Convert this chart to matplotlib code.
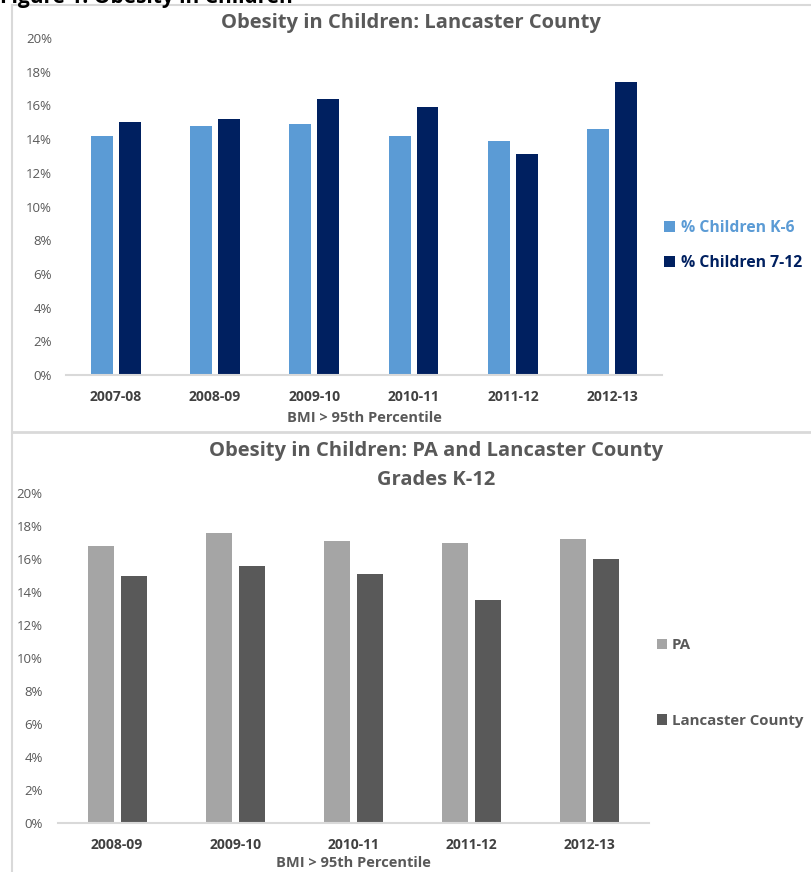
import matplotlib.pyplot as plt
import numpy as np
from matplotlib.lines import Line2D

plt.rcParams['font.family'] = ['Open Sans', 'DejaVu Sans']

# Datos
anios_sup = ["2007-08", "2008-09", "2009-10", "2010-11", "2011-12", "2012-13"]
ninos_k6 = [14.2, 14.8, 14.9, 14.2, 13.9, 14.6]
ninos_7_12 = [15.0, 15.2, 16.4, 15.9, 13.1, 17.4]

anios_inf = ["2008-09", "2009-10", "2010-11", "2011-12", "2012-13"]
pa = [16.8, 17.6, 17.1, 17.0, 17.2]
lancaster = [15.0, 15.6, 15.1, 13.5, 16.0]

gris_txt = '#595959'
borde = '#D9D9D9'

fig = plt.figure(figsize=(8.11, 8.72), dpi=100)

# cabecera cortada y marcos
fig.text(0.0, 1 - 3 / 872, "Figure 1: Obesity in Children", fontsize=15,
         fontweight='bold', color='black', va='baseline', ha='left')
fig.add_artist(Line2D([12 / 811, 12 / 811], [0, 1 - 5 / 872], color=borde, lw=1.5))
fig.add_artist(Line2D([12 / 811, 1], [1 - 5 / 872, 1 - 5 / 872], color=borde, lw=1.5))
fig.add_artist(Line2D([12 / 811, 1], [1 - 432 / 872, 1 - 432 / 872], color=borde, lw=2))


def estilo(ax, cats, ypad, xlpad):
    ax.set_ylim(0, 20)
    ax.set_yticks(np.arange(0, 21, 2))
    ax.set_yticklabels([f"{v}%" for v in range(0, 21, 2)])
    ax.set_xticks(np.arange(len(cats)))
    ax.set_xticklabels(cats, fontweight='bold', color='#404040', fontsize=10)
    ax.set_xlim(-0.5, len(cats) - 0.5)
    for s in ['top', 'right', 'left']:
        ax.spines[s].set_visible(False)
    ax.spines['bottom'].set_color(borde)
    ax.spines['bottom'].set_linewidth(1.5)
    ax.tick_params(axis='both', length=0)
    ax.tick_params(axis='y', labelcolor=gris_txt, labelsize=9.5, pad=ypad)
    ax.tick_params(axis='x', pad=11)
    ax.set_xlabel("BMI > 95th Percentile", fontweight='bold', color=gris_txt,
                  fontsize=10.5, labelpad=xlpad)


# Grafico superior
ax1 = fig.add_axes([66 / 811, 1 - 375 / 872, 596 / 811, 337 / 872])
x1 = np.arange(len(anios_sup))
ax1.bar(x1 - 0.14, ninos_k6, 0.22, color='#5B9BD5', label='% Children K-6')
ax1.bar(x1 + 0.14, ninos_7_12, 0.22, color='#002060', label='% Children 7-12')
estilo(ax1, anios_sup, 10, 5)
ax1.set_title("Obesity in Children: Lancaster County", fontsize=14.5,
              fontweight='bold', color=gris_txt, pad=7, x=0.579)
leg1 = ax1.legend(loc='center left', bbox_to_anchor=(0.98, 0.385), frameon=False,
                  handlelength=0.7, handleheight=0.7, handletextpad=0.4,
                  labelspacing=1.2, prop={'weight': 'bold', 'size': 11.3})
for t, c in zip(leg1.get_texts(), ['#5B9BD5', '#002060']):
    t.set_color(c)

# Grafico inferior
ax2 = fig.add_axes([58 / 811, 1 - 823 / 872, 591 / 811, 330 / 872])
x2 = np.arange(len(anios_inf))
ax2.bar(x2 - 0.14, pa, 0.22, color='#A5A5A5', label='PA')
ax2.bar(x2 + 0.14, lancaster, 0.22, color='#595959', label='Lancaster County')
estilo(ax2, anios_inf, 11, 3)
ax2.set_title("Obesity in Children: PA and Lancaster County\nGrades K-12", fontsize=14.5,
              fontweight='bold', color=gris_txt, pad=6, x=0.64, linespacing=1.6)
leg2 = ax2.legend(loc='center left', bbox_to_anchor=(0.99, 0.425), frameon=False,
                  handlelength=0.7, handleheight=0.7, handletextpad=0.3,
                  labelspacing=4.1, prop={'weight': 'bold', 'size': 10.8})
for t in leg2.get_texts():
    t.set_color(gris_txt)

plt.savefig('out.png', dpi=100)
